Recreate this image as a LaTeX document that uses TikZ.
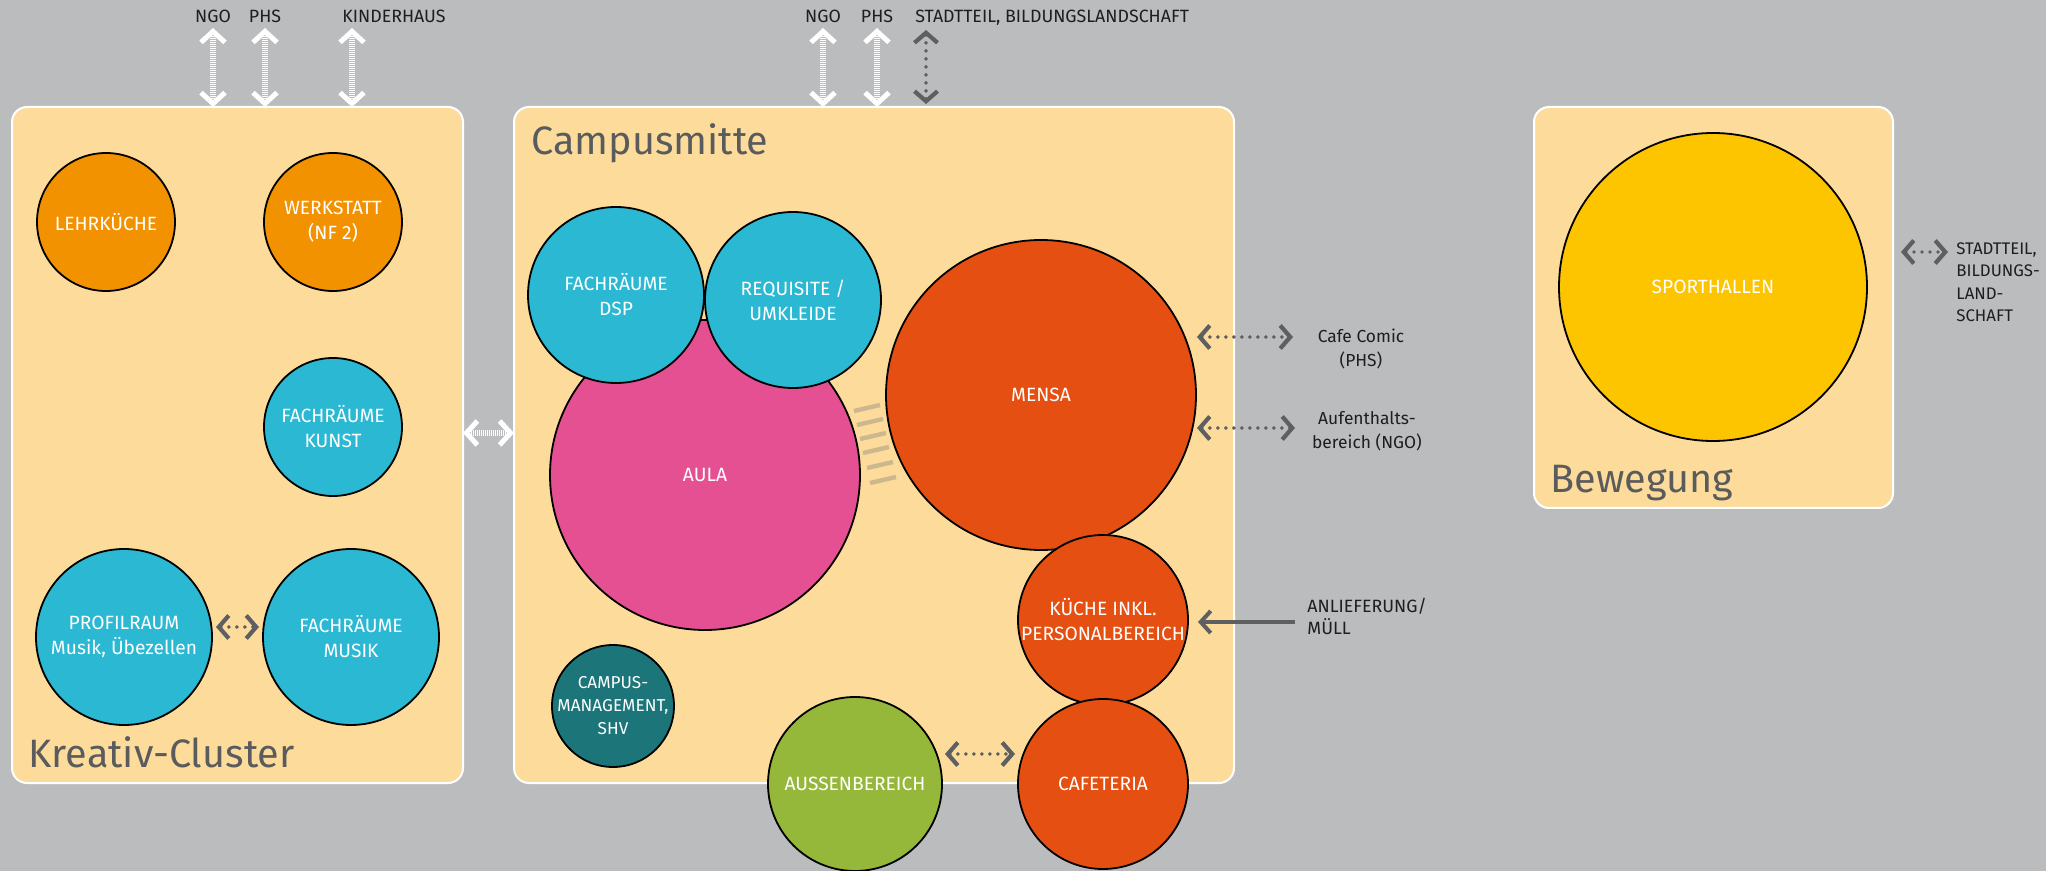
\documentclass[tikz,border=0pt]{standalone}
\usepackage{fontspec}
\setmainfont{Fira Sans}
\usetikzlibrary{arrows.meta}
\definecolor{bg}{HTML}{BBBCBE}
\definecolor{boxfill}{HTML}{FDDC9B}
\definecolor{orangeA}{HTML}{F39200}
\definecolor{cyanA}{HTML}{2AB8D3}
\definecolor{pinkA}{HTML}{E55093}
\definecolor{redA}{HTML}{E55012}
\definecolor{tealA}{HTML}{1B7579}
\definecolor{greenA}{HTML}{95B73A}
\definecolor{yellowA}{HTML}{FDC400}
\definecolor{titlegray}{HTML}{5A5B5D}
\definecolor{arrowgray}{HTML}{5E5F61}
\definecolor{lblcol}{HTML}{1E1E1E}
\definecolor{hatch}{HTML}{CDB88D}
\begin{document}
\begin{tikzpicture}[x=0.5pt,y=-0.5pt,
  zone/.style={draw=white, line width=1pt, fill=boxfill, rounded corners=7.5pt, anchor=north west, inner sep=0pt, outer sep=0pt},
  circ/.style={circle, draw=black, line width=0.9pt, inner sep=0pt, outer sep=0pt},
  ctext/.style={text=white, align=center, font=\fontsize{9.6}{12.5}\selectfont, inner sep=0pt},
  title/.style={text=titlegray, anchor=base west, font=\fontsize{19.8}{24}\selectfont, inner sep=0pt},
  toplbl/.style={text=lblcol, font=\fontsize{8.9}{11}\selectfont, inner sep=0pt},
  sidelbl/.style={text=lblcol, font=\fontsize{8.7}{12}\selectfont, inner sep=0pt},
  whitearrow/.style={white, line width=2.6pt, dash pattern=on 0.5pt off 0.5pt,
    {Straight Barb[length=5.5pt,width=12pt,line width=2.5pt]}-{Straight Barb[length=5.5pt,width=12pt,line width=2.5pt]}},
  graydots/.style={arrowgray, line width=1.9pt, dash pattern=on 0pt off 4pt, line cap=round,
    {Straight Barb[length=5pt,width=11.5pt,line width=2.1pt]}-{Straight Barb[length=5pt,width=11.5pt,line width=2.1pt]}},
  grayline/.style={arrowgray, line width=2pt, -{Straight Barb[length=5pt,width=11pt,line width=2pt]}}
]
\fill[bg] (0,0) rectangle (2046,871);
\useasboundingbox (0,0) rectangle (2046,871);

% zones
\node[zone, minimum width=225.5pt, minimum height=338pt] (kreativ) at (12,107) {};
\node[zone, minimum width=360pt, minimum height=338pt] (campus) at (514,107) {};
\node[zone, minimum width=179.5pt, minimum height=200.5pt] (bewegung) at (1534,107) {};

\node[title] (tkreativ) at (28,767) {Kreativ-Cluster};
\node[title] (tcampus) at (531,155) {Campusmitte};
\node[title] (tbewegung) at (1550,493) {Bewegung};

% hatch between Aula and Mensa
\foreach \x/\y in {854/411, 857/425, 860/439, 863/453, 867/468, 870/483}
  \draw[hatch, line width=2.2pt] (\x,\y) -- ++(26,-6);

% Kreativ-Cluster circles
\node[circ, fill=orangeA, minimum size=69pt, label={[ctext]center:LEHRKÜCHE}] (lehr) at (106,222) {};
\node[circ, fill=orangeA, minimum size=69pt, label={[ctext]center:{WERKSTATT\\(NF 2)}}] (werk) at (333,222) {};
\node[circ, fill=cyanA, minimum size=69pt, label={[ctext]center:{FACHRÄUME\\KUNST}}] (kunst) at (333,427) {};
\node[circ, fill=cyanA, minimum size=88pt, label={[ctext]center:{PROFILRAUM\\Musik, Übezellen}}] (profil) at (124,637) {};
\node[circ, fill=cyanA, minimum size=88pt, label={[ctext]center:{FACHRÄUME\\MUSIK}}] (musik) at (351,637) {};

% Campusmitte circles
\node[circ, fill=pinkA, minimum size=155pt, label={[ctext]center:AULA}] (aula) at (705,475) {};
\node[circ, fill=cyanA, minimum size=88pt, label={[ctext]center:{FACHRÄUME\\DSP}}] (dsp) at (616,295) {};
\node[circ, fill=cyanA, minimum size=88pt, label={[ctext]center:{REQUISITE /\\UMKLEIDE}}] (requ) at (793,300) {};
\node[circ, fill=redA, minimum size=155pt, label={[ctext]center:MENSA}] (mensa) at (1041,395) {};
\node[circ, fill=redA, minimum size=85pt, label={[ctext]center:{KÜCHE INKL.\\PERSONALBEREICH}}] (kueche) at (1103,620) {};
\node[circ, fill=redA, minimum size=85pt, label={[ctext]center:CAFETERIA}] (cafe) at (1103,784) {};
\node[circ, fill=greenA, minimum size=87pt, label={[ctext]center:AUSSENBEREICH}] (aussen) at (855,784) {};
\node[circ, fill=tealA, minimum size=61pt, label={[ctext, font=\fontsize{8.6}{11.5}\selectfont]center:{CAMPUS-\\MANAGEMENT,\\SHV}}] (cm) at (613,706) {};

% Bewegung
\node[circ, fill=yellowA, minimum size=154pt, label={[ctext]center:SPORTHALLEN}] (sport) at (1713,287) {};

% top labels and arrows
\node[toplbl, anchor=base] (lngoA) at (213,23) {NGO};
\node[toplbl, anchor=base] (lphsA) at (265,23) {PHS};
\node[toplbl, anchor=base west] (lkind) at (342,23) {KINDERHAUS};
\node[toplbl, anchor=base] (lngoB) at (823,23) {NGO};
\node[toplbl, anchor=base] (lphsB) at (877,23) {PHS};
\node[toplbl, anchor=base west] (lstadt) at (915,23) {STADTTEIL, BILDUNGSLANDSCHAFT};

\coordinate (angoA) at (213,28);
\coordinate (aphsA) at (265,28);
\coordinate (akind) at (352,28);
\coordinate (angoB) at (823,28);
\coordinate (aphsB) at (877,28);
\coordinate (astadt) at (926,30);

\draw[whitearrow] (angoA) -- (angoA |- kreativ.north) ;
\draw[whitearrow] (aphsA) -- (aphsA |- kreativ.north);
\draw[whitearrow] (akind) -- (akind |- kreativ.north);
\draw[whitearrow] (angoB) -- (angoB |- campus.north);
\draw[whitearrow] (aphsB) -- (aphsB |- campus.north);
\draw[graydots] (astadt) -- ([yshift=1.5pt]astadt |- campus.north);

% between zones
\draw[whitearrow] ([yshift=6pt]kreativ.east) -- ([yshift=6pt]campus.west);

% inner arrows
\draw[graydots] ([xshift=2pt,yshift=5pt]profil.east) -- ([xshift=-2pt,yshift=5pt]musik.west);
\draw[graydots] ([shift={(90,-30)}]aussen.center) -- ([shift={(-88,-30)}]cafe.center);

% Mensa side arrows and labels
\node[sidelbl, align=center] (lcafe) at (1361,349) {Cafe Comic\\(PHS)};
\node[sidelbl, align=center] (laufent) at (1367,431) {Aufenthalts-\\bereich (NGO)};
\draw[graydots] ([shift={(156,-58)}]mensa.center) -- ([shift={(252,-58)}]mensa.center);
\draw[graydots] ([shift={(156,33)}]mensa.center) -- ([shift={(254,33)}]mensa.center);

% Anlieferung
\node[sidelbl, align=left, anchor=west, font=\fontsize{8.9}{11}\selectfont] (lanl) at (1307,616) {ANLIEFERUNG/\\MÜLL};
\coordinate (aanl) at (1295,622);
\draw[grayline] (aanl) -- ([xshift=5pt,yshift=-1pt]kueche.east);

% Sporthallen side
\node[sidelbl, align=left, anchor=north west, font=\fontsize{8.4}{11.3}\selectfont] (lsport) at (1956,242) {STADTTEIL,\\BILDUNGS-\\LAND-\\SCHAFT};
\draw[graydots] ([xshift=4pt,yshift=-72.5pt]bewegung.north east) -- ([xshift=27.5pt,yshift=-72.5pt]bewegung.north east);
\end{tikzpicture}
\end{document}
